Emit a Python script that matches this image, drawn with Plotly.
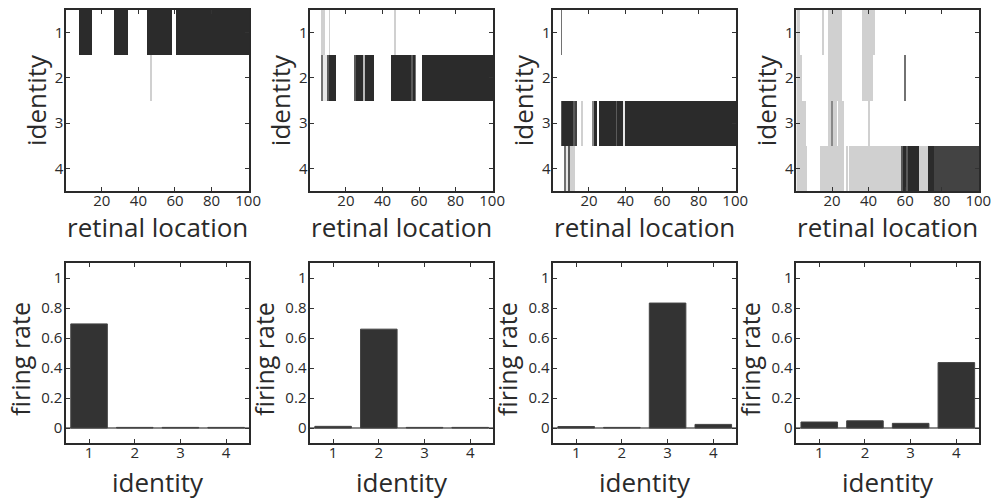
import numpy as np
import plotly.graph_objects as go
from plotly.subplots import make_subplots

# ---------------- data ----------------
IDENTITIES = [1, 2, 3, 4]
LOCATIONS = list(range(1, 101))
LOC_TICKS = [20, 40, 60, 80, 100]
RATE_TICKS = [0, 0.2, 0.4, 0.6, 0.8, 1]
RATE_LABELS = ["0", "0.2", "0.4", "0.6", "0.8", "1"]

# activation maps: (identity, first location, last location, level 0..9)
act_panel1 = [
    (1, 8, 14, 9), (1, 27, 34, 9), (1, 45, 58, 9), (1, 61, 100, 9),
    (2, 47, 47, 2),
]
act_panel2 = [
    (1, 7, 8, 2), (1, 11, 11, 2), (1, 47, 47, 2),
    (2, 7, 7, 6), (2, 8, 9, 1), (2, 10, 10, 7), (2, 11, 14, 9),
    (2, 25, 25, 7), (2, 26, 29, 9), (2, 30, 30, 3), (2, 31, 35, 9),
    (2, 45, 55, 9), (2, 56, 56, 7), (2, 57, 57, 9), (2, 58, 58, 6),
    (2, 62, 100, 9),
]
act_panel3 = [
    (1, 5, 5, 6),
    (3, 5, 5, 7), (3, 6, 11, 9), (3, 12, 12, 7), (3, 13, 13, 8),
    (3, 16, 16, 2), (3, 22, 22, 5), (3, 23, 24, 9), (3, 26, 34, 9),
    (3, 35, 35, 7), (3, 36, 38, 9), (3, 39, 39, 1), (3, 40, 100, 9),
    (4, 7, 7, 6), (4, 8, 8, 1), (4, 9, 9, 7), (4, 10, 12, 2),
]
act_panel4 = [
    (1, 1, 2, 2), (1, 15, 15, 2), (1, 18, 25, 2), (1, 37, 43, 2),
    (2, 1, 3, 2), (2, 18, 25, 2), (2, 37, 42, 2), (2, 60, 60, 6),
    (3, 1, 5, 2), (3, 18, 26, 2), (3, 20, 20, 5), (3, 23, 23, 0), (3, 40, 40, 2),
    (4, 1, 6, 2), (4, 14, 26, 2), (4, 28, 28, 2), (4, 30, 57, 2),
    (4, 58, 58, 7), (4, 59, 60, 9), (4, 61, 61, 7), (4, 62, 67, 9),
    (4, 68, 72, 2), (4, 73, 75, 9), (4, 76, 100, 8),
]

rates_panel1 = [0.694, 0.004, 0.004, 0.004]
rates_panel2 = [0.011, 0.659, 0.004, 0.004]
rates_panel3 = [0.010, 0.004, 0.833, 0.024]
rates_panel4 = [0.040, 0.048, 0.031, 0.436]

ACTS = [act_panel1, act_panel2, act_panel3, act_panel4]
RATES = [rates_panel1, rates_panel2, rates_panel3, rates_panel4]

# ---------------- styling ----------------
W, H = 1008, 499
FONT = "Open Sans"
TXT = "#2a2a2a"
DARK = "#2b2b2b"
COL_L = [67, 314, 560, 806]
PANEL_W = 185
TOP_Y = (10, 191)
BOT_Y = (263, 443)


def px_x(v):
    return v / W


def px_y(v):
    return 1 - v / H


def build_z(segs):
    z = np.zeros((len(IDENTITIES), len(LOCATIONS)))
    for ident, a, b, lvl in segs:
        z[ident - 1, a - 1:b] = lvl
    return z


fig = make_subplots(rows=2, cols=4)

for c in range(4):
    fig.add_trace(
        go.Heatmap(
            z=build_z(ACTS[c]), x=LOCATIONS, y=IDENTITIES,
            zmin=0, zmax=9, colorscale=[[0, "#ffffff"], [1, DARK]],
            showscale=False, hoverinfo="skip",
        ),
        row=1, col=c + 1,
    )
    fig.add_trace(
        go.Bar(
            x=IDENTITIES, y=RATES[c], width=0.8,
            marker=dict(color="#333333", line=dict(color="#444444", width=1)),
            showlegend=False, hoverinfo="skip",
        ),
        row=2, col=c + 1,
    )

axis_common = dict(
    showline=True, linecolor="#2a2a2a", linewidth=1.6, mirror="ticks",
    ticks="inside", ticklen=4, tickwidth=1, tickcolor="#333333",
    showgrid=False, zeroline=False,
    tickfont=dict(family=FONT, size=15, color=TXT),
)

for c in range(4):
    dom_x = [px_x(COL_L[c]), px_x(COL_L[c] + PANEL_W)]
    # top row
    fig.update_xaxes(axis_common, row=1, col=c + 1, domain=dom_x,
                     range=[0.5, 100.5], tickvals=LOC_TICKS, ticklabelstandoff=-5)
    fig.update_yaxes(axis_common, row=1, col=c + 1,
                     domain=[px_y(TOP_Y[1]), px_y(TOP_Y[0])],
                     range=[4.5, 0.5], tickvals=IDENTITIES, ticklabelstandoff=-2)
    # bottom row
    fig.update_xaxes(axis_common, row=2, col=c + 1, domain=dom_x,
                     range=[0.5, 4.5], tickvals=IDENTITIES, ticklabelstandoff=-5)
    fig.update_yaxes(axis_common, row=2, col=c + 1,
                     domain=[px_y(BOT_Y[1]), px_y(BOT_Y[0])],
                     range=[-0.1, 1.1], tickvals=RATE_TICKS, ticktext=RATE_LABELS,
                     ticklabelstandoff=-1,
                     zeroline=True, zerolinecolor="#8a8a8a", zerolinewidth=2)

    cx = COL_L[c] + PANEL_W / 2
    title_font = dict(family=FONT, size=26, color=TXT)
    fig.add_annotation(text="retinal location", xref="paper", yref="paper",
                       x=px_x(cx), y=px_y(227), xanchor="center", yanchor="middle",
                       showarrow=False, font=title_font)
    fig.add_annotation(text="identity", xref="paper", yref="paper",
                       x=px_x(COL_L[c] - 31), y=px_y((TOP_Y[0] + TOP_Y[1]) / 2),
                       xanchor="center", yanchor="middle", textangle=-90,
                       showarrow=False, font=title_font)
    fig.add_annotation(text="identity", xref="paper", yref="paper",
                       x=px_x(cx), y=px_y(482), xanchor="center", yanchor="middle",
                       showarrow=False, font=title_font)
    fig.add_annotation(text="firing rate", xref="paper", yref="paper",
                       x=px_x(COL_L[c] - 47), y=px_y(359),
                       xanchor="center", yanchor="middle", textangle=-90,
                       showarrow=False, font=dict(family=FONT, size=25, color=TXT))

fig.update_layout(
    width=W, height=H, margin=dict(l=0, r=0, t=0, b=0),
    paper_bgcolor="white", plot_bgcolor="white",
    showlegend=False, bargap=0.2,
)

fig.write_html("out.html")
